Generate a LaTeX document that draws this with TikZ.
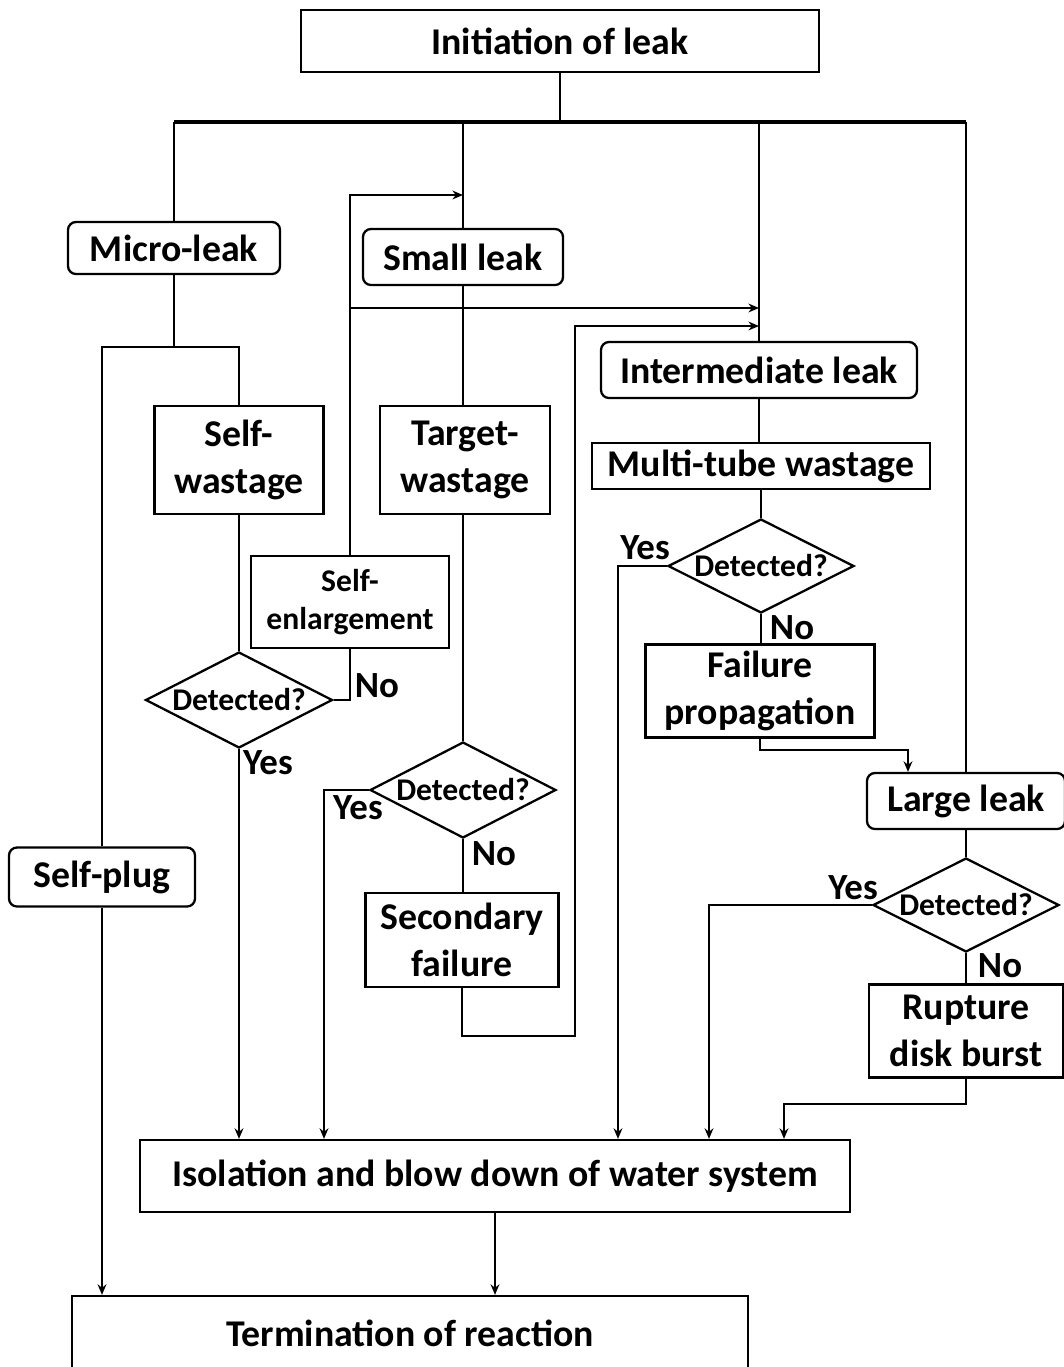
\documentclass[tikz,border=0pt]{standalone}
\usepackage{fontspec}
\setmainfont{Carlito}
\usetikzlibrary{shapes.geometric, arrows.meta}
\tikzset{>={Stealth[length=6pt,width=5pt]}}
\tikzset{
  box/.style={draw, line width=1.3pt, align=center, inner sep=0pt, font=\fontsize{21.5}{27}\selectfont\bfseries},
  leak/.style={box, rounded corners=4.5pt},
  ask/.style={draw, diamond, shape aspect=1.95, line width=1.3pt, inner sep=0pt, font=\fontsize{18}{21}\selectfont\bfseries},
  lbl/.style={font=\fontsize{21}{24}\selectfont\bfseries, inner sep=0pt}
}

\begin{document}
\begin{tikzpicture}[x=0.02cm, y=-0.02cm, line width=1.3pt]
    \useasboundingbox (0,0) rectangle (1064,1367);
    % boxes
    \node[box, minimum width=10.36cm, minimum height=1.24cm] (init) at (560,41) {Initiation of leak};
    \node[leak, minimum width=4.24cm, minimum height=1.04cm] (micro) at (174,248) {Micro-leak};
    \node[leak, minimum width=4.0cm, minimum height=1.12cm] (small) at (463,257) {Small leak};
    \node[leak, minimum width=6.32cm, minimum height=1.12cm] (inter) at (759,370) {Intermediate leak};
    \node[leak, minimum width=3.96cm, minimum height=1.12cm] (large) at (966,801) {Large leak};
    \node[leak, minimum width=3.72cm, minimum height=1.18cm] (plug) at (102,877) {Self-plug};
    \node[box, minimum width=3.38cm, minimum height=2.16cm] (selfw) at (239,460) {Self-\\wastage};
    \node[box, minimum width=3.40cm, minimum height=2.16cm] (target) at (465,460) {Target-\\wastage};
    \node[box, minimum width=3.96cm, minimum height=1.84cm,
          font=\fontsize{18}{21.5}\selectfont\bfseries] (enlarge) at (350,602) {Self-\\enlargement};
    \node[box, minimum width=6.76cm, minimum height=0.92cm] (multi) at (761,466) {Multi-tube wastage};
    \node[box, minimum width=4.58cm, minimum height=1.86cm] (fail) at (760,691) {Failure\\propagation};
    \node[box, minimum width=3.86cm, minimum height=1.88cm] (second) at (462,940) {Secondary\\failure};
    \node[box, minimum width=3.88cm, minimum height=1.86cm] (rupture) at (966,1031) {Rupture\\disk burst};
    \node[box, minimum width=14.2cm, minimum height=1.44cm] (isol) at (495,1176) {Isolation and blow down of water system};
    \node[box, minimum width=13.52cm, minimum height=1.48cm] (term) at (410,1333) {Termination of reaction};
    % decisions
    \node[ask, minimum width=3.74cm, minimum height=1.92cm] (d1) at (239,700) {Detected?};
    \node[ask, minimum width=3.72cm, minimum height=1.92cm] (d2) at (463,790) {Detected?};
    \node[ask, minimum width=3.72cm, minimum height=1.88cm] (d3) at (761,566) {Detected?};
    \node[ask, minimum width=3.72cm, minimum height=1.88cm] (d4) at (966,905) {Detected?};
    % bends
    \coordinate (bus) at (174,122);
    \coordinate (split) at (174,347);
    \coordinate (backS) at (350,195);
    \coordinate (jump) at (350,308);
    \coordinate (loopB) at (575,1036);
    \coordinate (loopT) at (575,326);
    \coordinate (yes2) at (324,790);
    \coordinate (yes3) at (618,566);
    \coordinate (yes4) at (709,905);
    \coordinate (toLarge) at (908,750);
    \coordinate (toIsol) at (784,1104);
    % top bus
    \draw (init.south) -- (init.south |- bus);
    \draw[line width=1.8pt] (micro.north |- bus) -- (large.north |- bus);
    \draw (micro.north) -- (micro.north |- bus);
    \draw (small.north) -- (small.north |- bus);
    \draw (inter.north) -- (inter.north |- bus);
    \draw (large.north) -- (large.north |- bus);
    % micro-leak
    \draw (micro.south) -- (split);
    \draw (plug.north) |- (selfw.north |- split) -- (selfw.north);
    \draw (selfw.south) -- (d1.north);
    \draw (d1.east) -| (enlarge.south);
    \draw[->] (enlarge.north) |- (small.north |- backS);
    \draw[->] (jump) -- (inter.north |- jump);
    \draw[->] (d1.south) -- (d1.south |- isol.north);
    \draw[->] (plug.south) -- (plug.south |- term.north);
    % small leak
    \draw (small.south) -- (target.north -| small.south);
    \draw (target.south -| d2.north) -- (d2.north);
    \draw[->] (d2.west) -| (yes2 |- isol.north);
    \draw (d2.south) -- (second.north -| d2.south);
    \draw[->] (second.south) |- (loopB) |- (inter.north |- loopT);
    % intermediate leak
    \draw (inter.south) -- (multi.north -| inter.south);
    \draw (multi.south -| d3.north) -- (d3.north);
    \draw[->] (d3.west) -| (yes3 |- isol.north);
    \draw (d3.south) -- (fail.north -| d3.south);
    \draw[->] (fail.south) |- (toLarge) -- (toLarge |- large.north);
    % large leak
    \draw (large.south) -- (d4.north);
    \draw[->] (d4.west) -| (yes4 |- isol.north);
    \draw (d4.south) -- (rupture.north);
    \draw[->] (rupture.south) |- (toIsol) -- (toIsol |- isol.north);
    \draw[->] (isol.south) -- (isol.south |- term.north);
    % answers
    \node[lbl] (no1) at (377,686) {No};
    \node[lbl] (yes1a) at (268,763) {Yes};
    \node[lbl] (yes2a) at (358,808) {Yes};
    \node[lbl] (no2) at (494,854) {No};
    \node[lbl] (yes3a) at (645,548) {Yes};
    \node[lbl] (no3) at (792,628) {No};
    \node[lbl] (yes4a) at (853,888) {Yes};
    \node[lbl] (no4) at (1000,966) {No};
\end{tikzpicture}
\end{document}
